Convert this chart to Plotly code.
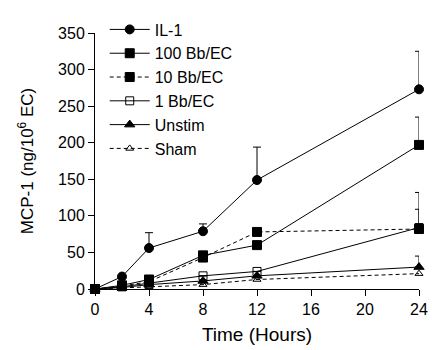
import plotly.graph_objects as go

hours = [0, 2, 4, 8, 12, 24]
series_names = ["IL-1", "100 Bb/EC", "10 Bb/EC", "1 Bb/EC", "Unstim", "Sham"]
il1 = [0, 17, 56, 79, 149, 273]
il1_err = [0, 0, 21, 10, 45, 52]
bb100 = [0, 5, 13, 46, 60, 197]
bb100_err = [0, 0, 0, 0, 0, 38]
bb10 = [0, 4, 10, 43, 78, 82]
bb10_err = [0, 0, 0, 0, 0, 50]
bb1 = [0, 3, 8, 18, 24, 84]
bb1_err = [0, 0, 0, 0, 0, 25]
unstim = [0, 2, 6, 11, 18, 30]
unstim_err = [0, 0, 0, 0, 0, 15]
sham = [0, 1, 3, 6, 13, 21]
sham_err = [0, 0, 0, 0, 0, 0]

styles = [
    ("circle", "solid", 9),
    ("square", "solid", 9),
    ("square", "4px,3px", 9),
    ("square-open", "solid", 8),
    ("triangle-up", "solid", 9),
    ("triangle-up-open", "4px,3px", 7),
]
values = [il1, bb100, bb10, bb1, unstim, sham]
errs = [il1_err, bb100_err, bb10_err, bb1_err, unstim_err, sham_err]

fig = go.Figure()
for name, y, e, (sym, dash, sz) in zip(series_names, values, errs, styles):
    fig.add_trace(go.Scatter(
        x=hours, y=y, name=name, mode="lines+markers",
        line=dict(color="black", width=1, dash=dash),
        marker=dict(symbol=sym, size=sz, color="black", line=dict(color="black", width=1)),
        error_y=dict(type="data", symmetric=False, array=e, arrayminus=[0] * len(e),
                     color="black", thickness=1, width=4, visible=any(v > 0 for v in e)),
        cliponaxis=False,
    ))

fig.update_layout(
    width=432, height=350,
    margin=dict(l=95, r=13, t=16, b=61),
    paper_bgcolor="white", plot_bgcolor="white",
    font=dict(family="Liberation Sans, Arial, sans-serif", color="black", size=16),
    legend=dict(x=0.03, y=1.08, xanchor="left", yanchor="top", bgcolor="rgba(0,0,0,0)",
                font=dict(size=16), itemwidth=40, tracegroupgap=0),
    showlegend=True,
)
fig.update_xaxes(range=[0, 24], tickvals=[0, 4, 8, 12, 16, 20, 24], showline=True,
                 linecolor="black", linewidth=1, ticks="outside", ticklen=6, tickcolor="black",
                 showgrid=False, zeroline=False, tickfont=dict(size=16), automargin=False,
                 title=dict(text="Time (Hours)", font=dict(size=19), standoff=10))
fig.update_yaxes(range=[0, 350], tickvals=list(range(0, 351, 50)), showline=True,
                 linecolor="black", linewidth=1, ticks="outside", ticklen=6, tickcolor="black",
                 showgrid=False, zeroline=False, tickfont=dict(size=16), automargin=False,
                 title=dict(text="MCP-1 (ng/10<sup>6</sup> EC)", font=dict(size=17), standoff=20))

fig.write_html("out.html")
